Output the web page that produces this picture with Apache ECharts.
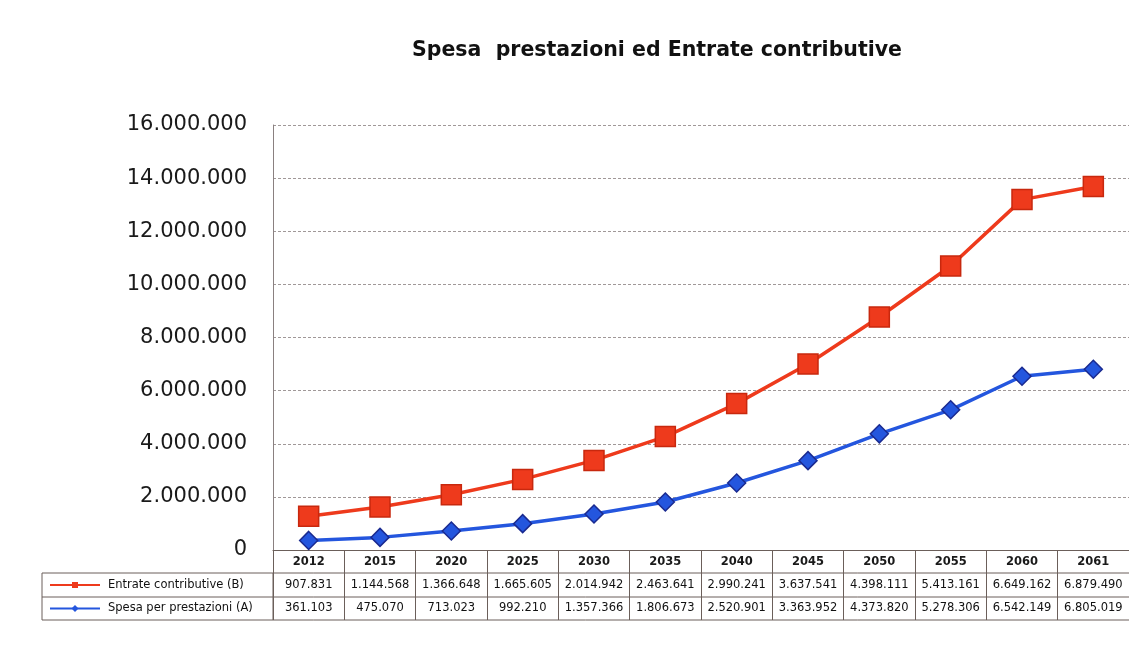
<!DOCTYPE html>
<html><head><meta charset="utf-8">
<script src="https://cdn.jsdelivr.net/npm/echarts@6/dist/echarts.min.js"></script>
<style>html,body{margin:0;padding:0;background:#fff}#c{width:1129px;height:645px}</style>
</head><body><div id="c"></div>
<script>
const title = 'Spesa  prestazioni ed Entrate contributive';
const years = ['2012','2015','2020','2025','2030','2035','2040','2045','2050','2055','2060','2061'];
const entrateName = 'Entrate contributive (B)';
const spesaName = 'Spesa per prestazioni (A)';
const entrate = [907831,1144568,1366648,1665605,2014942,2463641,2990241,3637541,4398111,5413161,6649162,6879490];
const spesa = [361103,475070,713023,992210,1357366,1806673,2520901,3363952,4373820,5278306,6542149,6805019];
const yMin = 0, yMax = 16000000, yStep = 2000000;

const RED = '#ee3a1c', RED_D = '#c8280e', BLUE = '#2456de', BLUE_D = '#1a2a90';
const BORDER = '#6b5f5a', GRIDC = '#a09898';
const FONT = '"DejaVu Sans", Verdana, sans-serif';
const fmt = n => String(n).replace(/\B(?=(\d{3})+(?!\d))/g, '.');

const chart = echarts.init(document.getElementById('c'), null, {renderer: 'canvas'});
chart.setOption({
  backgroundColor: '#ffffff',
  animation: false,
  title: {text: title, left: 652, top: 35, textAlign: 'center',
    textStyle: {fontFamily: FONT, fontSize: 20.5, fontWeight: 'bold', color: '#111'}},
  grid: {left: 273, right: -9, top: 125, bottom: 95, containLabel: false},
  xAxis: {type: 'category', data: years, boundaryGap: true,
    axisLine: {show: true, lineStyle: {color: BORDER, width: 1}},
    axisTick: {show: true, alignWithLabel: false, length: 70, lineStyle: {color: BORDER, width: 1}},
    axisLabel: {margin: 6, fontFamily: FONT, fontSize: 11.5, fontWeight: 'bold', color: '#1a1a1a'},
    splitLine: {show: false}},
  yAxis: {type: 'value', min: yMin, max: yMax, interval: yStep,
    axisLine: {show: true, lineStyle: {color: '#8a8080'}},
    axisTick: {show: false},
    axisLabel: {margin: 26, fontFamily: FONT, fontSize: 21, color: '#1a1a1a', formatter: v => fmt(v)},
    splitLine: {show: true, lineStyle: {color: GRIDC, type: [3, 2], width: 1}}},
  series: [
    {name: spesaName, type: 'line', stack: 'tot', data: spesa,
     symbol: 'diamond', symbolSize: 18,
     lineStyle: {color: BLUE, width: 3.5},
     itemStyle: {color: BLUE, borderColor: BLUE_D, borderWidth: 1.5}, z: 3},
    {name: entrateName, type: 'line', stack: 'tot', data: entrate,
     symbol: 'rect', symbolSize: 20,
     lineStyle: {color: RED, width: 3.5},
     itemStyle: {color: RED, borderColor: RED_D, borderWidth: 1.5}, z: 4}
  ]
});

// data table below the plot
const y0 = chart.convertToPixel({yAxisIndex: 0}, 0);
const c0 = chart.convertToPixel({xAxisIndex: 0}, 0);
const c1 = chart.convertToPixel({xAxisIndex: 0}, 1);
const bw = c1 - c0;
const tableLeft = 42, colLeft = c0 - bw / 2, tableRight = c0 + bw * (years.length - 0.5);
const r1 = y0 + 23, r2 = r1 + 24, r3 = r2 + 23;
const g = [];
const hline = (y, x1, x2) => g.push({type: 'line', silent: true, shape: {x1, y1: y, x2, y2: y}, style: {stroke: BORDER, lineWidth: 1}});
hline(r1, tableLeft, tableRight);
hline(r2, tableLeft, tableRight);
hline(r3, tableLeft, tableRight);
g.push({type: 'line', shape: {x1: tableLeft, y1: r1, x2: tableLeft, y2: r3}, style: {stroke: BORDER, lineWidth: 1}});
g.push({type: 'line', shape: {x1: colLeft, y1: r1, x2: colLeft, y2: r3}, style: {stroke: BORDER, lineWidth: 1}});
const rows = [
  {name: entrateName, vals: entrate, color: RED, sym: 'rect', y: (r1 + r2) / 2},
  {name: spesaName, vals: spesa, color: BLUE, sym: 'diamond', y: (r2 + r3) / 2}
];
rows.forEach(r => {
  g.push({type: 'line', shape: {x1: 50, y1: r.y, x2: 100, y2: r.y}, style: {stroke: r.color, lineWidth: 2}});
  if (r.sym === 'rect') {
    g.push({type: 'rect', shape: {x: 72, y: r.y - 3, width: 6, height: 6}, style: {fill: r.color}});
  } else {
    g.push({type: 'polygon', shape: {points: [[75, r.y - 3.5], [78.5, r.y], [75, r.y + 3.5], [71.5, r.y]]}, style: {fill: r.color}});
  }
  g.push({type: 'text', x: 108, y: r.y, style: {text: r.name, fontFamily: FONT, fontSize: 11.5, fill: '#111', textVerticalAlign: 'middle', verticalAlign: 'middle'}});
  r.vals.forEach((v, i) => {
    const cx = chart.convertToPixel({xAxisIndex: 0}, i);
    g.push({type: 'text', x: cx, y: r.y, style: {text: fmt(v), fontFamily: FONT, fontSize: 11.5, fill: '#111', align: 'center', textAlign: 'center', verticalAlign: 'middle', textVerticalAlign: 'middle'}});
  });
});
chart.setOption({graphic: g});
</script></body></html>
